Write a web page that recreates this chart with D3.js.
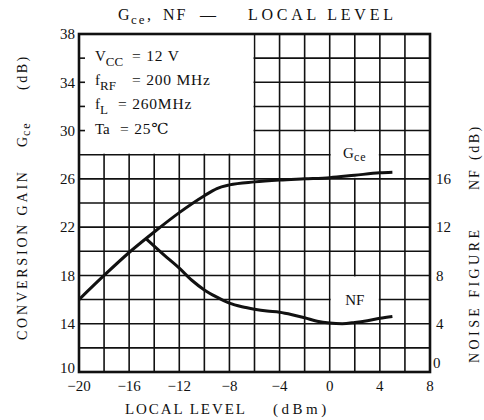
<!DOCTYPE html>
<html><head><meta charset="utf-8">
<script src="https://cdn.jsdelivr.net/npm/d3@7"></script>
<style>body{margin:0;background:#fff}svg{display:block}</style></head>
<body>
<svg id="c" width="484" height="420"></svg>
<script>
// ---- data ----
const xTicks = [-20, -16, -12, -8, -4, 0, 4, 8];
const gceTicks = [10, 14, 18, 22, 26, 30, 34, 38];
const nfTicks = [0, 4, 8, 12, 16];
const gceLevel = [-20, -18, -16, -14, -12, -10, -9, -8, -6, -4, -2, 0, 2, 4, 5];
const gceValues = [16, 18, 19.9, 21.6, 23.2, 24.6, 25.2, 25.5, 25.75, 25.9, 26.0, 26.1, 26.3, 26.5, 26.55];
const nfLevel = [-14.6, -13, -12, -11, -10, -9, -8, -7, -6, -5, -4, -3, -2, -1, 0, 1, 2, 3, 4, 5];
const nfValues = [11.0, 9.5, 8.6, 7.6, 6.8, 6.2, 5.7, 5.4, 5.2, 5.05, 4.95, 4.75, 4.5, 4.2, 4.05, 4.0, 4.1, 4.25, 4.45, 4.6];
const condMain = ["V", "f", "f", "Ta"];
const condSub = ["CC", "RF", "L", ""];
const condRest = ["= 12 V", "= 200 MHz", "= 260MHz", "= 25\u2103"];

// ---- layout ----
const L = 79, R = 430, T = 34, B = 372;
const x = d3.scaleLinear().domain([-20, 8]).range([L, R]);
const yG = d3.scaleLinear().domain([10, 38]).range([B, T]);
const yN = d3.scaleLinear().domain([0, 28]).range([B, T]);
const svg = d3.select("#c");
const serif = "'Liberation Serif', 'DejaVu Serif', serif";
const ink = "#111";

// grid
const g = svg.append("g").attr("stroke", ink).attr("stroke-width", 1.6);
g.selectAll("line.v").data(d3.range(-18, 8, 2)).join("line")
  .attr("x1", d => x(d)).attr("x2", d => x(d)).attr("y1", T).attr("y2", B);
g.selectAll("line.h").data(d3.range(12, 38, 2)).join("line")
  .attr("y1", d => yG(d)).attr("y2", d => yG(d)).attr("x1", L).attr("x2", R);

// white boxes (legend, curve labels)
const boxes = [
  {x0: -20, x1: -6, y0: 28, y1: 38},
  {x0: 0, x1: 4, y0: 26, y1: 30},
  {x0: 0, x1: 4, y0: 14, y1: 18}
];
svg.selectAll("rect.box").data(boxes).join("rect")
  .attr("fill", "#fff")
  .attr("x", d => x(d.x0) + 1).attr("width", d => x(d.x1) - x(d.x0) - 2)
  .attr("y", d => yG(d.y1) + 1).attr("height", d => yG(d.y0) - yG(d.y1) - 2);

// small left ticks inside legend box
svg.append("g").attr("stroke", ink).attr("stroke-width", 1.6)
  .selectAll("line").data([30, 32, 34, 36]).join("line")
  .attr("x1", L).attr("x2", L + 6).attr("y1", d => yG(d)).attr("y2", d => yG(d));

// frame
svg.append("rect").attr("x", L).attr("y", T).attr("width", R - L).attr("height", B - T)
  .attr("fill", "none").attr("stroke", ink).attr("stroke-width", 2.6);

// curves
const lineG = d3.line().x((d, i) => x(gceLevel[i])).y(d => yG(d)).curve(d3.curveMonotoneX);
const lineN = d3.line().x((d, i) => x(nfLevel[i])).y(d => yN(d)).curve(d3.curveMonotoneX);
svg.append("path").attr("d", lineG(gceValues)).attr("fill", "none").attr("stroke", ink).attr("stroke-width", 3);
svg.append("path").attr("d", lineN(nfValues)).attr("fill", "none").attr("stroke", ink).attr("stroke-width", 3);

// tick labels
svg.append("g").selectAll("text").data(gceTicks).join("text")
  .attr("x", 75).attr("y", d => yG(d) - (d === 10 ? 4 : 0)).attr("dy", "0.35em").attr("text-anchor", "end")
  .attr("font-family", serif).attr("font-size", 15).attr("fill", ink).text(d => d);
svg.append("g").selectAll("text").data(xTicks).join("text")
  .attr("x", d => x(d)).attr("y", 391).attr("text-anchor", "middle")
  .attr("font-family", serif).attr("font-size", 15).attr("fill", ink).text(d => d < 0 ? "\u2212" + (-d) : d);
svg.append("g").selectAll("text").data(nfTicks).join("text")
  .attr("x", d => d === 0 ? 433 : 436).attr("y", d => yN(d) - (d === 0 ? 9 : 0)).attr("dy", "0.35em")
  .attr("font-family", serif).attr("font-size", 15).attr("fill", ink).text(d => d);

// conditions legend
const restX = [132, 132, 118, 120];
condMain.forEach((m, i) => {
  const yy = yG(36 - 2 * i) + 3;
  const t = svg.append("text").attr("x", 95).attr("y", yy)
    .attr("font-family", serif).attr("font-size", 15).attr("fill", ink);
  t.append("tspan").text(m);
  if (condSub[i]) t.append("tspan").attr("font-size", 13).attr("dy", 5).text(condSub[i]);
  svg.append("text").attr("x", restX[i]).attr("y", yy).attr("font-family", serif).attr("font-size", 15.5)
    .attr("fill", ink).attr("letter-spacing", 0.8).text(condRest[i]);
});

// curve labels
const lab = svg.append("text").attr("x", x(2)).attr("y", yG(28) + 3).attr("text-anchor", "middle")
  .attr("font-family", serif).attr("font-size", 15).attr("fill", ink);
lab.append("tspan").text("G");
lab.append("tspan").attr("font-size", 12).attr("dy", 3).attr("letter-spacing", 1).text("ce");
svg.append("text").attr("x", x(2)).attr("y", yG(16) + 5).attr("text-anchor", "middle")
  .attr("font-family", serif).attr("font-size", 15).attr("fill", ink).text("NF");

// helper for a text piece
function piece(xx, yy, str, size, opts) {
  opts = opts || {};
  const t = svg.append("text").attr("font-family", serif).attr("font-size", size).attr("fill", ink).text(str);
  if (opts.len) t.attr("textLength", opts.len).attr("lengthAdjust", "spacing");
  if (opts.ls) t.attr("letter-spacing", opts.ls);
  if (opts.rot) t.attr("transform", `translate(${xx},${yy}) rotate(-90)`);
  else t.attr("x", xx).attr("y", yy);
  return t;
}

// title
piece(118, 20, "G", 16);
piece(131, 24, "ce", 13, {ls: 2});
piece(147, 20, ",", 16);
piece(163, 20, "NF", 16, {ls: 2});
piece(200, 20, "\u2014", 16);
piece(248, 20, "LOCAL LEVEL", 16, {len: 145});

// x axis title
piece(125, 414, "LOCAL LEVEL", 15, {len: 120});
piece(273, 414, "(dBm)", 15, {ls: 3.5});

// left title (rotated)
piece(27, 340, "CONVERSION GAIN", 14, {len: 168, rot: true});
piece(27, 147, "G", 14, {rot: true});
piece(30, 136, "ce", 12, {ls: 2, rot: true});
piece(27, 90, "(dB)", 14, {ls: 2.5, rot: true});

// right title (rotated)
piece(479, 363, "NOISE FIGURE", 14, {len: 133, rot: true});
piece(479, 190, "NF", 14, {ls: 2, rot: true});
piece(479, 160, "(dB)", 14, {ls: 2.5, rot: true});
</script>
</body></html>
